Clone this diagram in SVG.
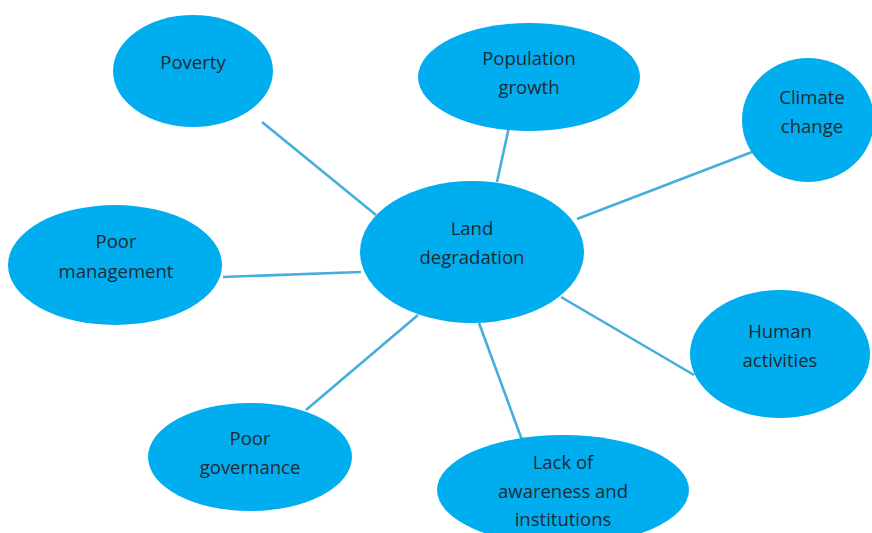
<svg xmlns="http://www.w3.org/2000/svg" width="872" height="533" viewBox="0 0 872 533">
<style>
.n ellipse{fill:#00aeef;}
.n text{font-family:"Open Sans","Liberation Sans",sans-serif;font-size:18.5px;fill:#1f2a33;text-anchor:middle;}
.c line{stroke:#45aedc;stroke-width:2.6;}
</style>
<rect width="872" height="533" fill="#ffffff"/>
<g class="c" id="connectors">
<line x1="262" y1="122" x2="376" y2="215"/>
<line x1="514" y1="104" x2="497" y2="182"/>
<line x1="752" y1="152" x2="577" y2="219"/>
<line x1="223" y1="277" x2="361" y2="272"/>
<line x1="306" y1="410" x2="418" y2="315"/>
<line x1="522" y1="440" x2="479" y2="323"/>
<line x1="694" y1="375" x2="561" y2="297"/>
</g>
<g class="n" id="poverty"><ellipse cx="193" cy="71" rx="80" ry="56"/><text x="193" y="69">Poverty</text></g>
<g class="n" id="population"><ellipse cx="529" cy="77" rx="111" ry="54"/><text x="529" y="65">Population</text><text x="529" y="94">growth</text></g>
<g class="n" id="climate"><ellipse cx="808" cy="120" rx="66" ry="62"/><text x="812" y="104">Climate</text><text x="812" y="133">change</text></g>
<g class="n" id="land"><ellipse cx="472" cy="252" rx="112" ry="71"/><text x="472" y="235">Land</text><text x="472" y="264">degradation</text></g>
<g class="n" id="management"><ellipse cx="115" cy="265" rx="107" ry="60"/><text x="116" y="248">Poor</text><text x="116" y="278">management</text></g>
<g class="n" id="human"><ellipse cx="780" cy="354" rx="90" ry="64"/><text x="780" y="338">Human</text><text x="780" y="367">activities</text></g>
<g class="n" id="governance"><ellipse cx="250" cy="457" rx="102" ry="54"/><text x="250" y="445">Poor</text><text x="250" y="474">governance</text></g>
<g class="n" id="awareness"><ellipse cx="563" cy="490" rx="126" ry="55"/><text x="563" y="469">Lack of</text><text x="563" y="498">awareness and</text><text x="563" y="526">institutions</text></g>
</svg>
